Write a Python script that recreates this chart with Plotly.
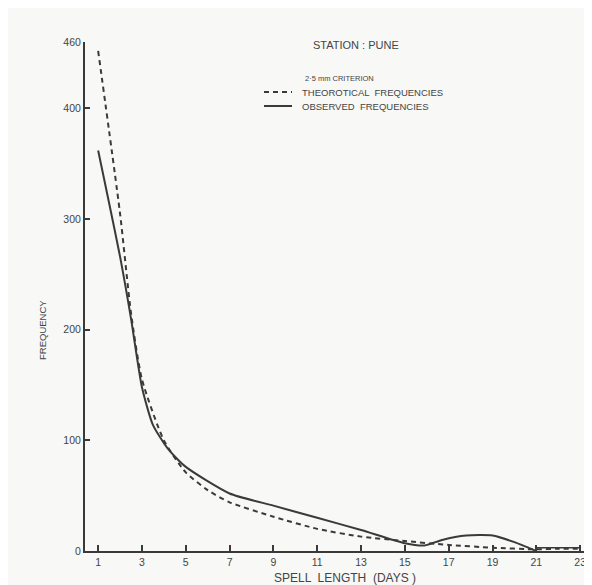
import plotly.graph_objects as go

# Spell length (days) and frequencies
x_theo = [1, 2, 2.5, 3, 4, 5, 6, 7, 9, 11, 13, 15, 17, 19, 21, 22, 23]
theoretical = [452, 305, 215, 155, 100, 71, 55, 44, 31, 20, 13, 9, 5.5, 3, 1.5, 2, 2]

x_obs = [1, 2, 2.5, 3, 3.5, 4.2, 5, 7, 9, 11, 13, 15, 15.9, 16.7, 17.8, 19, 20, 21]
observed = [362, 266, 210, 148, 114, 92, 76, 52, 41, 30, 19, 7, 5, 10, 14, 14, 8, 0]

x_box = [21, 21, 23, 23]
box_vals = [0, 3, 3, 0]

x_ticks = [1, 3, 5, 7, 9, 11, 13, 15, 17, 19, 21, 23]
y_ticks = [0, 100, 200, 300, 400, 460]

ink = "#3a3a3a"
txt = "#444"
FONT = "Liberation Sans, Arial, sans-serif"

W, H = 584, 577
L, R, T, B = 77, 2, 34, 34
PW, PH = W - L - R, H - T - B
OFF = 8  # page offset of the figure


def px(xp):
    return (xp - OFF - L) / PW


def py(yp):
    return (H - B + OFF - yp) / PH


fig = go.Figure()
fig.add_trace(go.Scatter(
    x=x_theo, y=theoretical, mode="lines", name="THEOROTICAL FREQUENCIES",
    line=dict(color=ink, width=2, dash="5px,4px", shape="spline", smoothing=0.6),
))
fig.add_trace(go.Scatter(
    x=x_obs, y=observed, mode="lines", name="OBSERVED FREQUENCIES",
    line=dict(color=ink, width=2, shape="spline", smoothing=0.6),
))
fig.add_trace(go.Scatter(
    x=x_box, y=box_vals, mode="lines", showlegend=False,
    line=dict(color=ink, width=1.5),
))


def ann(text, xp, yp, size, xanchor="left", angle=0, family=FONT):
    return dict(text=text, x=px(xp), y=py(yp), xref="paper", yref="paper",
                xanchor=xanchor, yanchor="middle", showarrow=False, textangle=angle,
                font=dict(size=size, color=txt, family=family))


annotations = [
    ann("STATION : PUNE", 356, 45, 11, "center"),
    ann("2·5 mm CRITERION", 303, 78, 7.5),
    ann("THEOROTICAL  FREQUENCIES", 300, 92, 9.5),
    ann("OBSERVED  FREQUENCIES", 300, 106, 9.5),
    ann("SPELL  LENGTH  (DAYS )", 345, 578, 12, "center"),
    ann("FREQUENCY", 42, 330, 9.5, "center", -90),
]

shapes = [
    dict(type="line", xref="paper", yref="paper", x0=px(264), x1=px(292), y0=py(92), y1=py(92),
         line=dict(color=ink, width=2, dash="5px,4px")),
    dict(type="line", xref="paper", yref="paper", x0=px(264), x1=px(292), y0=py(106), y1=py(106),
         line=dict(color=ink, width=2)),
]

fig.update_layout(
    width=W, height=H,
    margin=dict(l=L, r=R, t=T, b=B),
    paper_bgcolor="#f8f8f6", plot_bgcolor="#f8f8f6",
    font=dict(family=FONT, color=txt, size=10.5),
    showlegend=False,
    annotations=annotations,
    shapes=shapes,
    xaxis=dict(
        range=[0.4, 23.45], tickvals=x_ticks, ticktext=[str(v) for v in x_ticks],
        showgrid=False, zeroline=False, showline=True, linecolor=ink, linewidth=2,
        ticks="inside", ticklen=6, tickcolor=ink, tickwidth=1.5,
        tickfont=dict(size=10.5),
    ),
    yaxis=dict(
        range=[0, 460], tickvals=y_ticks, ticktext=[str(v) for v in y_ticks],
        showgrid=False, zeroline=False, showline=True, linecolor=ink, linewidth=2,
        ticks="inside", ticklen=5, tickcolor=ink, tickwidth=1.5,
    ),
)

fig.write_html("out.html")
